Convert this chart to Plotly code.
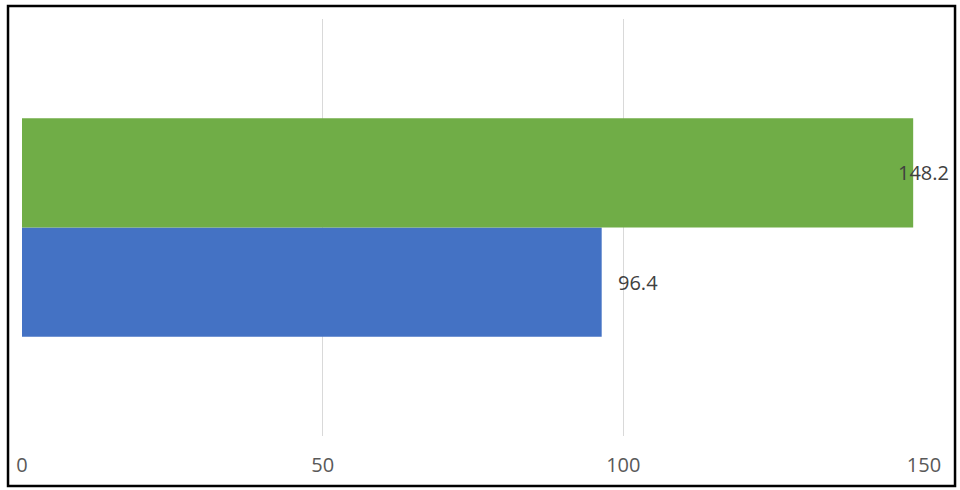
import plotly.graph_objects as go

categories = ["Total"]
series_names = ["Series 1", "Series 2"]
blue_values = [96.4]
green_values = [148.2]
tick_values = [0, 50, 100, 150]

font_family = "Open Sans"

fig = go.Figure()
fig.add_trace(go.Bar(y=categories, x=blue_values, name=series_names[0],
                     orientation="h", marker_color="#4472C4",
                     marker_line_width=0))
fig.add_trace(go.Bar(y=categories, x=green_values, name=series_names[1],
                     orientation="h", marker_color="#70AD47",
                     marker_line_width=0))

# data labels (Excel "outside end", last one pushed inside the chart edge)
fig.add_annotation(x=blue_values[0], y=categories[0], text=f"{blue_values[0]}",
                   showarrow=False, xanchor="left", xshift=14, yshift=-55,
                   font=dict(family=font_family, size=20, color="#404040"))
fig.add_annotation(x=green_values[0], y=categories[0], text=f"{green_values[0]}",
                   showarrow=False, xanchor="left", xshift=-17, yshift=55,
                   font=dict(family=font_family, size=20, color="#404040"))

fig.update_layout(
    width=960, height=490,
    margin=dict(l=22, r=36, t=19, b=54),
    paper_bgcolor="white", plot_bgcolor="white",
    barmode="group", bargap=0.476, bargroupgap=0,
    showlegend=False,
    font=dict(family=font_family, size=20, color="#595959"),
    xaxis=dict(range=[0, 150], tickvals=tick_values, showgrid=True,
               gridcolor="#D9D9D9", gridwidth=1, zeroline=False,
               showline=False, ticks="", ticklabelstandoff=15),
    yaxis=dict(range=[-0.5, 0.5], showticklabels=False, showgrid=False,
               zeroline=False, showline=False, ticks=""),
    shapes=[dict(type="rect", xref="paper", yref="paper",
                 x0=-0.0155, x1=1.0344, y0=-0.12, y1=1.031,
                 line=dict(color="black", width=2.5), layer="above")],
)

fig.write_html("out.html", config={"displayModeBar": False},
               post_script="document.body.style.margin='0';")
